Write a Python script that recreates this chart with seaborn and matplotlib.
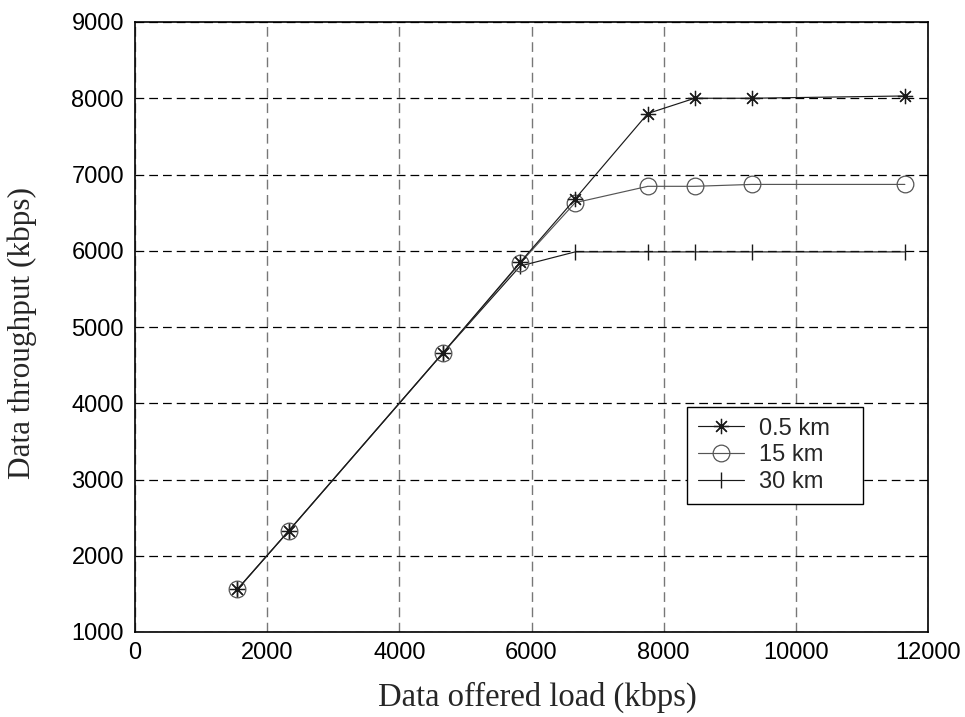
import matplotlib
matplotlib.use("Agg")
import matplotlib.pyplot as plt
import seaborn as sns
import pandas as pd

offered_load = [1550, 2330, 4660, 5830, 6660, 7760, 8470, 9330, 11650]
thr_05km = [1560, 2330, 4660, 5850, 6680, 7800, 8000, 8000, 8030]
thr_15km = [1560, 2330, 4660, 5840, 6630, 6845, 6845, 6870, 6870]
thr_30km = [1560, 2330, 4660, 5800, 5985, 5985, 5985, 5985, 5985]
series_labels = ["0.5 km", "15 km", "30 km"]
x_ticks = [0, 2000, 4000, 6000, 8000, 10000, 12000]
y_ticks = [1000, 2000, 3000, 4000, 5000, 6000, 7000, 8000, 9000]

df = pd.DataFrame({
    "load": offered_load * 3,
    "thr": thr_05km + thr_15km + thr_30km,
    "series": [series_labels[0]] * len(offered_load)
              + [series_labels[1]] * len(offered_load)
              + [series_labels[2]] * len(offered_load),
})

sns.set_style("white")
plt.rcParams["font.family"] = ["Liberation Sans", "DejaVu Sans"]

fig = plt.figure(figsize=(9.65, 7.17), dpi=100)
ax = fig.add_axes([135 / 965, 85 / 717, 793 / 965, 610 / 717])

styles = {
    "0.5 km": dict(marker=(8, 2, 0), markersize=11, color="#1a1a1a",
                   markeredgecolor="#1a1a1a", markeredgewidth=0.9),
    "15 km": dict(marker="o", markersize=12, color="#555555",
                  markerfacecolor="none", markeredgecolor="#555555",
                  markeredgewidth=0.9),
    "30 km": dict(marker="|", markersize=11, color="#1a1a1a",
                  markeredgecolor="#1a1a1a", markeredgewidth=1.0),
}
# draw in reverse so the first series is on top
for name in series_labels[::-1]:
    sub = df[df["series"] == name]
    sns.lineplot(data=sub, x="load", y="thr", ax=ax, label=name,
                 linewidth=0.85, **styles[name])

ax.set_xlim(0, 12000)
ax.set_ylim(1000, 9000)
ax.set_xticks(x_ticks)
ax.set_yticks(y_ticks)
ax.set_xticklabels([str(v) for v in x_ticks])
ax.set_yticklabels([str(v) for v in y_ticks])
ax.tick_params(axis="both", direction="in", length=6, width=1,
               labelsize=17, colors="black")
ax.tick_params(axis="y", pad=8)
ax.tick_params(axis="x", pad=7)

for s in ax.spines.values():
    s.set_visible(True)
    s.set_color("black")
    s.set_linewidth(1.2)

ax.xaxis.grid(True, linestyle=(0, (7, 4)), color="#777777", linewidth=1.0)
ax.yaxis.grid(True, linestyle=(0, (7, 4)), color="black", linewidth=0.9)
ax.set_axisbelow(True)

ax.set_xlabel("Data offered load (kbps)", fontsize=23.5,
              family=["Liberation Serif", "DejaVu Serif"])
ax.set_ylabel("Data throughput (kbps)", fontsize=22.5,
              family=["Liberation Serif", "DejaVu Serif"])
ax.xaxis.set_label_coords(0.507, -0.082)
ax.yaxis.set_label_coords(-0.1236, 0.49)

handles, labels = ax.get_legend_handles_labels()
order = [labels.index(n) for n in series_labels]
leg = ax.legend([handles[i] for i in order], [labels[i] for i in order],
                loc="upper left", bbox_to_anchor=(0.696, 0.21, 0.222, 0.159),
                mode="expand",
                frameon=True, fancybox=False, framealpha=1,
                edgecolor="black", fontsize=17, handlelength=1.95,
                borderpad=0.45, labelspacing=0.2, handletextpad=0.65,
                borderaxespad=0)
leg.get_frame().set_linewidth(1.0)

fig.savefig("out.png", dpi=100)
